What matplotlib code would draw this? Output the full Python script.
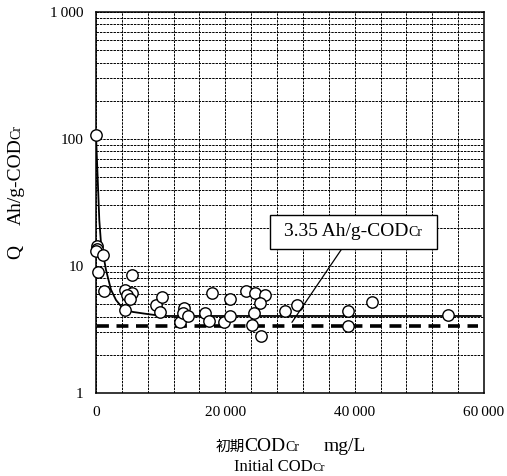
import matplotlib
matplotlib.use('Agg')
import matplotlib.pyplot as plt
from matplotlib.ticker import FixedLocator, MultipleLocator, LogLocator, NullFormatter
from matplotlib.transforms import IdentityTransform
from matplotlib.offsetbox import TextArea, HPacker, DrawingArea, AnnotationBbox

SERIF = 'Liberation Serif'
CJK = 'Noto Sans CJK JP'
plt.rcParams['font.family'] = [SERIF, CJK]

# measured points: initial COD_Cr (mg/L) vs charge per g COD_Cr (Ah/g)
cod = [0, 100, 200, 50, 1130, 260, 1290,
       4480, 5520, 4750, 5260, 4480, 5610,
       9280, 10200, 9900,
       12990, 13650, 13400, 14180,
       17890, 16850, 17520, 19790, 20720, 20720,
       23190, 24580, 26130, 25350, 24430, 24070, 25460,
       29220, 31030,
       38920, 38920, 42620, 54420]
q = [108, 14.3, 13.6, 13.1, 12.2, 8.9, 6.3,
     6.5, 6.1, 5.9, 5.45, 4.5, 8.5,
     4.95, 5.7, 4.35,
     3.65, 4.65, 4.25, 4.05,
     6.15, 4.3, 3.7, 3.65, 5.45, 4.05,
     6.3, 6.1, 5.9, 5.15, 4.25, 3.43, 2.82,
     4.45, 4.95,
     4.4, 3.38, 5.2, 4.1]

# trend curve drawn through the data
curve_cod = [0, 510, 770, 1130, 1550, 2320, 3090, 4130, 5670, 7730, 9280, 11000, 59500]
curve_q = [108, 23, 15.2, 12.2, 9.3, 6.5, 5.4, 4.65, 4.35, 4.2, 4.1, 4.04, 4.04]

# lower limit value
q_min = 3.35
q_min_span = [200, 59000]

x_ticks = [0, 20000, 40000, 60000]
x_ticklabels = ['0', '20\u2009000', '40\u2009000', '60\u2009000']
y_ticks = [1, 10, 100, 1000]
y_ticklabels = ['1', '10', '100', '1\u2009000']

W, H = 507, 476


def run_text(fig, x, y, runs, rotation=0):
    """Put text pieces of mixed size on one baseline, centred on (x, y) in pixels."""
    r = fig.canvas.get_renderer()
    placed = []
    for s, size, family, gap in runs:
        t = fig.text(0, 0, s, fontsize=size, family=family, rotation=rotation,
                     rotation_mode='anchor', ha='left', va='baseline',
                     transform=IdentityTransform())
        bb = t.get_window_extent(r)
        placed.append((t, (bb.height if rotation else bb.width) + gap))
    pos = -sum(w for _, w in placed) / 2
    for t, w in placed:
        t.set_position((x, y + pos) if rotation else (x + pos, y))
        pos += w


fig = plt.figure(figsize=(W / 100, H / 100), dpi=100)
ax = fig.add_axes([96 / W, 1 - 393 / H, 388 / W, 381 / H])

ax.set_yscale('log')
ax.set_xlim(0, 60000)
ax.set_ylim(1, 1000)

ax.xaxis.set_major_locator(FixedLocator(x_ticks))
ax.set_xticklabels(x_ticklabels)
ax.xaxis.set_minor_locator(MultipleLocator(4000))
ax.yaxis.set_major_locator(FixedLocator(y_ticks))
ax.set_yticklabels(y_ticklabels)
ax.yaxis.set_minor_locator(LogLocator(base=10, subs=range(2, 10)))
ax.yaxis.set_minor_formatter(NullFormatter())
ax.tick_params(which='both', length=0, pad=9, labelsize=11)

ax.grid(which='both', color='black', lw=0.7, ls=(0, (2.5, 1.0)))
ax.set_axisbelow(True)
for sp in ax.spines.values():
    sp.set_linewidth(1.1)

ax.plot(q_min_span, [q_min, q_min], color='black', lw=2.6, ls=(0, (3.3, 2.1)), zorder=3)
ax.plot(curve_cod, curve_q, color='black', lw=1.3, zorder=4)
ax.plot(cod, q, 'o', ms=8.2, mfc='white', mec='black', mew=1.0, zorder=5, clip_on=False)

# boxed label for the lower limit
label = HPacker(children=[DrawingArea(4, 0),
                          TextArea('3.35 Ah/g-COD', textprops=dict(fontsize=14, family=SERIF)),
                          TextArea('Cr', textprops=dict(fontsize=10, family=SERIF)),
                          DrawingArea(4, 0)],
                align='baseline', pad=0, sep=0)
ab = AnnotationBbox(label, xy=(30300, 3.6), xybox=(39800, 18.6), xycoords='data',
                    boxcoords='data', pad=0.62, fontsize=10,
                    bboxprops=dict(edgecolor='black', facecolor='white', lw=1.0),
                    arrowprops=dict(arrowstyle='-', color='black', lw=0.9,
                                    shrinkA=0, shrinkB=0))
ab.set_zorder(6)
ax.add_artist(ab)

# axis titles (Cr written small on the same baseline)
run_text(fig, 20.5, H - 192, [('Q', 14, SERIF, 20), ('Ah/g-COD', 14, SERIF, 0),
                             ('Cr', 10, SERIF, 0)], rotation=90)
run_text(fig, 290.5, H - 451, [('初期', 10.5, CJK, 0), ('COD', 14, SERIF, 0),
                               ('Cr', 10, SERIF, 24), ('mg/L', 14, SERIF, 0)])
run_text(fig, 279.5, H - 471, [('Initial COD', 12, SERIF, 0), ('Cr', 9, SERIF, 0)])

fig.savefig('out.png', dpi=100)
